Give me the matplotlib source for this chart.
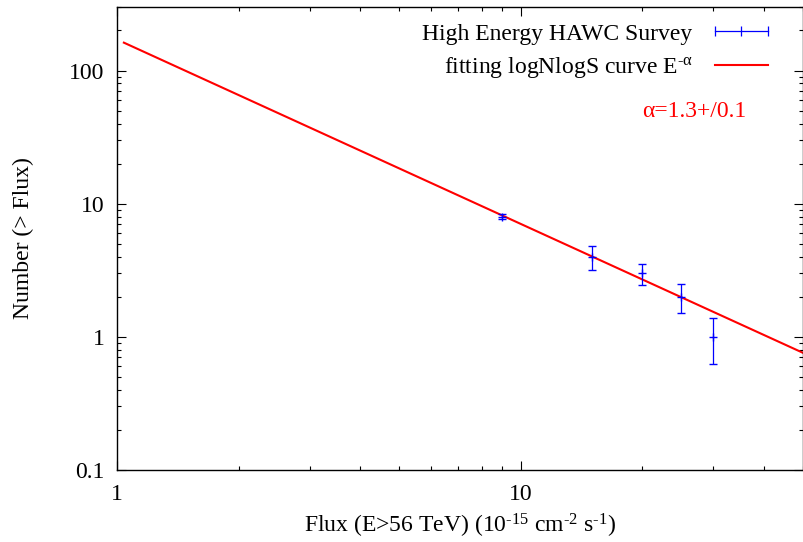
import numpy as np
import matplotlib
matplotlib.use("Agg")
import matplotlib.pyplot as plt
from matplotlib.lines import Line2D
from matplotlib.ticker import LogLocator, FuncFormatter, NullFormatter

# HAWC high energy survey, integral source counts
flux = [9, 15, 20, 25, 30]
number = [8, 4, 3, 2, 1]
number_err = [0.35, 0.8, 0.55, 0.5, 0.38]

# fitted logN-logS power law
fit_norm = 171.0
fit_index = 1.385
fit_range = (1.04, 50.0)

plt.rcParams["font.family"] = ["Liberation Serif", "DejaVu Serif"]
plt.rcParams["mathtext.fontset"] = "custom"
plt.rcParams["mathtext.rm"] = "Liberation Serif"
plt.rcParams["mathtext.it"] = "Liberation Serif:italic"
plt.rcParams["font.size"] = 17

fig = plt.figure(figsize=(8.04, 5.42), dpi=100)
ax = fig.add_axes([117 / 804, 1 - 470 / 542, 686 / 804, 463 / 542])

xs = np.logspace(np.log10(fit_range[0]), np.log10(fit_range[1]), 200)
ax.plot(xs, fit_norm * xs ** (-fit_index), color="red", lw=1.5, zorder=2)

ax.errorbar(flux, number, yerr=number_err, fmt="+", color="blue", ms=6,
            mew=1.0, elinewidth=0.9, capsize=3, capthick=0.9, zorder=3)

ax.set_xscale("log")
ax.set_yscale("log")
ax.set_xlim(1, 50)
ax.set_ylim(0.1, 300)

fmt = FuncFormatter(lambda v, p: "%g" % v)
for axis in (ax.xaxis, ax.yaxis):
    axis.set_major_locator(LogLocator(base=10))
    axis.set_minor_locator(LogLocator(base=10, subs=np.arange(2, 10)))
    axis.set_major_formatter(fmt)
    axis.set_minor_formatter(NullFormatter())

ax.tick_params(which="both", direction="in", top=True, right=True, width=0.8)
ax.tick_params(which="major", length=6.5)
ax.tick_params(which="minor", length=3.2)
ax.tick_params(axis="x", which="major", pad=10)
ax.tick_params(axis="y", which="major", pad=9)
for s in ax.spines.values():
    s.set_linewidth(1.0)

hy = "\u2010"
ax.set_xlabel(r"Flux (E>56 TeV) (10$^{\mathrm{%s15}}$ cm$^{\mathrm{%s2}}$ s$^{\mathrm{%s1}}$)" % (hy, hy, hy),
              labelpad=5)
ax.set_ylabel("Number (> Flux)", labelpad=25)

handles = [
    Line2D([], [], color="blue", lw=0.9, marker="|", ms=7, mew=0.9),
    Line2D([], [], color="red", lw=1.5),
]
labels = ["High Energy HAWC Survey", "fitting logNlogS curve E$^{\\mathrm{%s\u03b1}}$" % hy]
ax.legend(handles, labels, loc="upper right", bbox_to_anchor=(0.959, 0.965),
          frameon=False, markerfirst=False, numpoints=3, handlelength=2.85,
          handletextpad=0.64, labelspacing=0.45, borderpad=0, borderaxespad=0)

ax.text(0.765, 0.774, "\u03b1=1.3+/0.1", color="red", transform=ax.transAxes,
        va="center", ha="left")

fig.savefig("out.png", dpi=100)
